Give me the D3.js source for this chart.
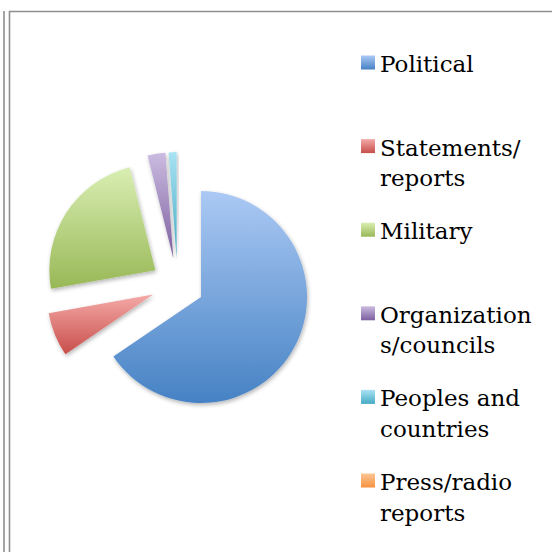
<!DOCTYPE html>
<html>
<head>
<meta charset="utf-8">
<script src="https://cdn.jsdelivr.net/npm/d3@7/dist/d3.min.js"></script>
<style>
html,body{margin:0;padding:0;background:#fff;}
svg{display:block;}
</style>
</head>
<body>
<svg id="chart" width="552" height="552"></svg>
<script>
// ---- data ----
const categories = ["Political","Statements/reports","Military","Organizations/councils","Peoples and countries","Press/radio reports"];
const values = [65.5, 6.7, 23.9, 2.7, 1.2, 0];
const legendLines = [["Political"],["Statements/","reports"],["Military"],["Organization","s/councils"],["Peoples and","countries"],["Press/radio","reports"]];
const colorTop = ["#abc9f4","#f4aaa8","#d9eeb3","#cbbbe0","#a8e3f3","#fcc595"];
const colorBottom = ["#4682c4","#c84e4a","#98b856","#7c5f9f","#46a9c4","#f7923f"];

// ---- layout ----
const svg = d3.select("#chart");
const W = 552, H = 552;
const cx = 177.6, cy = 284.6, R = 106, explode = 26.5;

// frame
svg.append("line").attr("x1",4).attr("x2",4).attr("y1",11).attr("y2",H).attr("stroke","#8f8f8f").attr("stroke-width",1.6);
svg.append("line").attr("x1",9.5).attr("x2",9.5).attr("y1",11).attr("y2",H).attr("stroke","#8f8f8f").attr("stroke-width",1.6);
svg.append("line").attr("x1",9).attr("x2",W).attr("y1",11.5).attr("y2",11.5).attr("stroke","#8f8f8f").attr("stroke-width",1.6);

const defs = svg.append("defs");
categories.forEach((c,i)=>{
  const g = defs.append("linearGradient").attr("id","grad"+i).attr("x1",0).attr("y1",0).attr("x2",0).attr("y2",1);
  g.append("stop").attr("offset","0%").attr("stop-color",colorTop[i]);
  g.append("stop").attr("offset","100%").attr("stop-color",colorBottom[i]);
});
const f = defs.append("filter").attr("id","shadow").attr("x","-20%").attr("y","-20%").attr("width","140%").attr("height","140%");
f.append("feGaussianBlur").attr("in","SourceAlpha").attr("stdDeviation",2).attr("result","b");
f.append("feOffset").attr("in","b").attr("dx",1).attr("dy",2).attr("result","o");
f.append("feComponentTransfer").attr("in","o").attr("result","s").append("feFuncA").attr("type","linear").attr("slope",0.3);
const m = f.append("feMerge");
m.append("feMergeNode").attr("in","s");
m.append("feMergeNode").attr("in","SourceGraphic");

const pie = d3.pie().sort(null).value(d=>d).startAngle(0).endAngle(2*Math.PI);
const arc = d3.arc().innerRadius(0).outerRadius(R);
const arcs = pie(values);

svg.append("g").attr("transform",`translate(${cx},${cy})`)
  .selectAll("path").data(arcs.filter(d=>d.value>0)).join("path")
  .attr("d",arc)
  .attr("fill",d=>`url(#grad${d.index})`)
  .attr("filter","url(#shadow)")
  .attr("transform",d=>{
    const a=(d.startAngle+d.endAngle)/2;
    return `translate(${explode*Math.sin(a)},${-explode*Math.cos(a)})`;
  });

// legend
const yBase = d3.scaleLinear().domain([0,categories.length-1]).range([72,490]);
const lg = svg.append("g");
categories.forEach((c,i)=>{
  const b = yBase(i);
  lg.append("rect").attr("x",361).attr("y",b-16.5).attr("width",14).attr("height",14).attr("fill",`url(#grad${i})`);
  const t = lg.append("text").attr("x",380).attr("y",b)
    .attr("font-family","DejaVu Serif").attr("font-size",23).attr("fill","#000");
  legendLines[i].forEach((ln,j)=>{
    t.append("tspan").attr("x",380).attr("y",b+j*30.5).text(ln);
  });
});
</script>
</body>
</html>
